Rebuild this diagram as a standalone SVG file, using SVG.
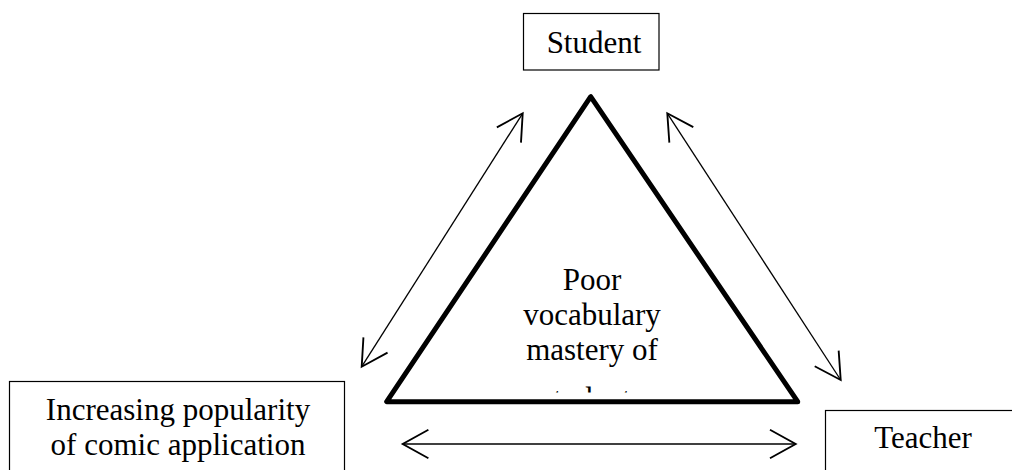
<svg xmlns="http://www.w3.org/2000/svg" width="1012" height="470" viewBox="0 0 1012 470">
<style>
.box{fill:#fff;stroke:#000;stroke-width:1.2}
.t{font-family:"Liberation Serif","Times New Roman",serif;font-size:31px;fill:#000;text-anchor:middle}
.arr{fill:none;stroke:#000;stroke-width:1.3;marker-start:url(#ah);marker-end:url(#ah)}
</style>
<defs>
<marker id="ah" markerUnits="userSpaceOnUse" markerWidth="40" markerHeight="40" viewBox="-22 -14 26 28" refX="0" refY="0" orient="auto-start-reverse" overflow="visible">
<path d="M-18,-10 L0,0 L-18,10" fill="none" stroke="#000" stroke-width="1.3"/>
</marker>
<clipPath id="cl"><rect x="500" y="250" width="200" height="142.5"/></clipPath>
</defs>
<rect width="1012" height="470" fill="#fff"/>
<g id="student">
<rect class="box" x="523.5" y="13.5" width="135.5" height="56.5"/>
<text class="t" x="594" y="53">Student</text>
</g>
<g id="center">
<polygon points="590.7,96.7 386.7,401.7 797.7,401.7" fill="#fff" stroke="#000" stroke-width="5" stroke-linejoin="round"/>
<text class="t" x="592" clip-path="url(#cl)"><tspan x="592" y="290">Poor</tspan><tspan x="592" y="325">vocabulary</tspan><tspan x="592" y="360">mastery of</tspan><tspan x="592" y="408.5">students</tspan></text>
</g>
<g id="comic">
<rect class="box" x="9.5" y="381.5" width="335" height="100"/>
<text class="t" x="178"><tspan x="178" y="420">Increasing popularity</tspan><tspan x="178" y="455">of comic application</tspan></text>
</g>
<g id="teacher">
<rect class="box" x="825.5" y="410.5" width="200" height="80"/>
<text class="t" x="923" y="448">Teacher</text>
</g>
<g id="connectors">
<line class="arr" x1="361.7" y1="366.7" x2="522.7" y2="113.3"/>
<line class="arr" x1="667.3" y1="113.3" x2="840.7" y2="380"/>
<line class="arr" x1="402.7" y1="444" x2="795.7" y2="444"/>
</g>
</svg>
